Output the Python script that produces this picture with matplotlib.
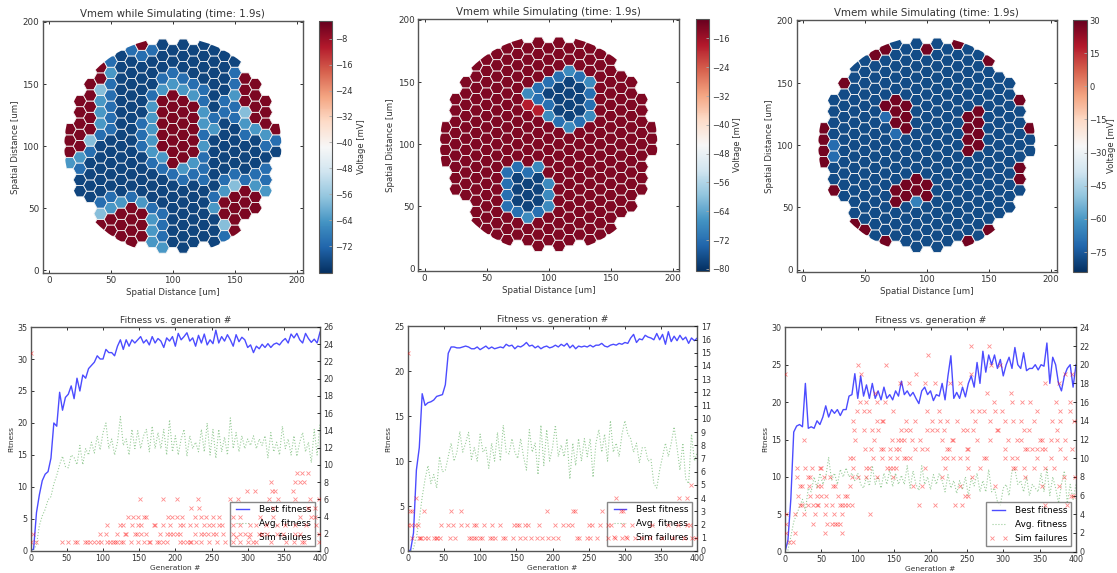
import matplotlib
matplotlib.use('Agg')
import numpy as np
import matplotlib.pyplot as plt
from matplotlib.collections import PolyCollection
from matplotlib.colors import Normalize
from matplotlib.cm import ScalarMappable
from matplotlib.lines import Line2D
from matplotlib.patches import Circle

W, H = 1117, 573

# lowest row index of each of the 21 cell columns (left to right)
COLUMN_START = [-2, -4, -5, -7, -8, -8, -9, -8, -9, -9, -9, -9, -9, -8, -9, -8, -8, -6, -6, -4, -1]

# cell states per column, bottom to top
CELLS_1 = [
    "MRRR", "DDBMRRRRR", "DDDDBLRRRRR", "RLBDDDDDBMMMLRR", "RRMBDDDDDBBBBBMB",
    "RRRMDDDDDDDDDDDDD", "RRRRBDDDDDDDDDDDDB", "RRRMDDDDBBBDDDDDBR",
    "MMMBDDDBMMMMMBDDDB", "MBBBDDDBMRRRRRMBDDD", "DDDDDDBRRRRRRRMBDD",
    "DDDDDDBMRRRRRRMBDDD", "DDDDDDBMRRRRRMBDDD", "DDDDDBBBMBMMBBDDDD",
    "DDDMBDDDDDMBDDDDDD", "BLRRMBDDDDDBBDDDD", "RRRRLBDDDDBBMBBD",
    "RRRBDDDBMLRRR", "RRMBDDDMRRRR", "MBBDBMRRR", "DBR",
]
CELLS_2 = [
    "RRRR", "RRRRRRRRR", "RRRRRRRRRRR", "RRRRRRRRRRRRRRR", "RRRRRRRRRRRRRRRR",
    "RRRRRRRRRRRRRRRRR", "RRRBBBBRRRRRRRRRRR", "RRBDDDBRRRRRRRRRRR",
    "RRMDDDBRRRRRrMRRRR", "RRRBDDDMRRRRrBBRRRR", "RRRMMMRRRRRMBDBRRR",
    "RRRRRRRRRRRBDDDBRRR", "RRRRRRRRRRMDDDDMRR", "RRRRRRRRRRBDDDBRRR",
    "RRRRRRRRRRRMBBMRRR", "RRRRRRRRRRRRRRRRR", "RRRRRRRRRRRRRRRR",
    "RRRRRRRRRRRRR", "RRRRRRRRRRRR", "RRRRRRRRR", "RRR",
]
CELLS_3 = [
    "RRRR", "RDDBBDDDD", "DDDDDDDDDDR", "RDDDDDDDDDDDDDD", "RDDDDDDDDDDDDDDD",
    "DDDDDDDDDDDDDDDDR", "RDDDDDDDDDDBRDDDDR", "DDDRRDDDDBRRRDDDDD",
    "DDDDRRDDDDRRRDDDDD", "DDDDMRRDDDDDDDDDDDD", "DDDDRRDDDDDDDDDDDR",
    "DDDDDDDDDDDDDDDDDDD", "DDDDDDDDDDDDDDDDDD", "DDDDDDDDDDDDDDDDDR",
    "RDDDDDDDRRRRDDDDDD", "DDDDDDDDRRRRDDDDD", "RDDDDDDDDDDDDDDR",
    "DDDDDDDDDDDDD", "DDDDDDDDDDDD", "DRRDDDDDR", "DDR",
]

# voltage of each cell state [mV]
LEVELS_1 = {'R': -5, 'D': -77, 'B': -71, 'M': -64, 'L': -58}
LEVELS_2 = {'R': -13, 'r': -18, 'D': -78, 'B': -72, 'M': -68}
LEVELS_3 = {'R': 28, 'D': -78, 'B': -71, 'M': -66}

VRANGE_1 = (-80.1, -2.6)
VRANGE_2 = (-80.6, -10.6)
VRANGE_3 = (-84, 30)

CB_TICKS_1 = [-72, -64, -56, -48, -40, -32, -24, -16, -8]
CB_TICKS_2 = [-80, -72, -64, -56, -48, -40, -32, -24, -16]
CB_TICKS_3 = [-75, -60, -45, -30, -15, 0, 15, 30]

# generation numbers of the sampled fitness values
GENS = list(range(0, 401, 4))

BEST_1 = [0.1, 0.3, 6, 8.8, 11, 12, 12.4, 14.5, 20, 19.5, 24.8, 22, 24, 24.5, 25.8, 23.8, 27, 25, 27.5, 27,
          28.5, 29, 29.5, 30.5, 30, 30, 31.5, 31, 31, 30.5, 32, 33, 31.5, 33, 32, 33, 32.5, 33, 33.5, 32.5,
          33, 32.2, 33.5, 32.5, 33.2, 32.8, 31.8, 33.3, 32.8, 33.5, 32, 34, 33, 33.5, 34.1, 32.8, 33.3, 32, 33.7, 32.5,
          33.9, 32.2, 33, 32.4, 34.5, 32.5, 33.5, 32.8, 33.8, 33, 32, 33.8, 32.7, 33.4, 33, 31.8, 32.2, 31, 32, 31.6,
          32.3, 31.8, 32.4, 31.8, 32.3, 32.5, 32.2, 32.8, 33.2, 32.5, 33.9, 33.3, 34, 33, 32.5, 34, 33.2, 32.6, 33.1, 32.5,
          34.2]
AVG_1 = [0, 0.2, 1, 4, 5.5, 6.5, 8, 8.5, 10.5, 11.8, 13.5, 14.8, 13.2, 13, 15, 14.6, 13.5, 16.5, 13.5, 16,
         15, 17, 15.3, 18, 15.8, 18.5, 20, 16, 17.5, 15, 17, 21, 16.5, 17.5, 15, 19, 16, 18.8, 16, 18,
         19, 15.5, 19.5, 16, 18.5, 16, 19, 15, 20.5, 15.5, 18, 15, 17.5, 19, 14.8, 18, 16, 17, 15.5, 19,
         15.5, 20, 15, 19, 14.5, 19, 15.5, 17.8, 15, 20.8, 16, 18.5, 15.5, 18, 16, 17.5, 16.5, 18, 16, 17.5,
         16.5, 18, 14.5, 18.5, 15.5, 17, 15, 19.5, 16, 17.5, 15, 18, 14.8, 17, 18.5, 15.5, 17, 13.8, 19, 15,
         20]
BEST_2 = [0, 0.1, 2, 9, 11.5, 17.5, 16.2, 16.5, 16.6, 16.8, 17.2, 17.3, 17.4, 18.5, 22, 22.7, 22.7, 22.6, 22.6, 22.7,
          22.8, 22.7, 22.5, 22.5, 22.7, 22.4, 22.6, 22.8, 22.5, 22.7, 22.5, 22.6, 22.7, 22.6, 23, 22.8, 22.9, 22.5, 22.8, 22.7,
          22.9, 23.2, 22.8, 22.9, 22.6, 22.8, 22.5, 22.7, 22.8, 22.6, 22.7, 22.9, 22.7, 23, 22.8, 23.1, 22.6, 22.9, 22.5, 22.8,
          22.7, 22.8, 22.7, 22.9, 22.7, 22.9, 22.9, 23.1, 22.8, 22.7, 22.9, 23, 22.9, 23.1, 23, 23.2, 23.1, 23.7, 24.1, 23.2,
          23.6, 23.5, 24, 23.8, 23.7, 23.5, 24.2, 23.5, 24.1, 23, 24.4, 23.3, 23.9, 23.4, 24, 23.5, 23.8, 23.1, 23.7, 23.4,
          23.7]
AVG_2 = [0, 0, 0.3, 1.5, 3.5, 6, 8, 9.5, 7.5, 8.5, 7, 10.5, 8.8, 9, 10.5, 12, 10, 11, 13.3, 11,
         12, 13.2, 10.2, 11.5, 10, 13, 11, 11.5, 9.2, 12, 10, 13.2, 10, 14, 11, 10.8, 12.5, 11, 10.3, 12.5,
         10.5, 9, 13.5, 11, 12, 8.5, 14, 9.5, 13.5, 10, 11.5, 14, 10.5, 11.8, 10.5, 12.5, 8, 12, 9.5, 12.5,
         10, 12.5, 10.5, 12.5, 8.2, 12, 13.5, 11, 13, 10, 14.5, 11, 12, 10.5, 13, 14.5, 13, 12.5, 11, 12,
         9.8, 11.5, 11.5, 10, 10.2, 7.5, 7, 9, 10.5, 12, 10.5, 12, 13.8, 11.5, 9, 12, 8, 7.5, 13, 10,
         11]
BEST_3 = [0, 1.5, 7, 16, 16.8, 17, 16.7, 22.5, 16.5, 16.7, 16.5, 17.5, 17, 18, 19.5, 18, 19, 18.5, 19, 18.2,
          19, 19, 20.8, 21, 23.8, 20.5, 23.5, 20.8, 22.3, 20.5, 22.5, 20.5, 21.5, 20.3, 22, 20.5, 21, 20.3, 21.5, 20.8,
          22.8, 21, 21.5, 20.8, 21.3, 20.5, 19.8, 21.5, 22, 21, 21.5, 20.2, 21, 20.8, 22.5, 20.3, 23.5, 26.2, 20.5, 21.3,
          20.5, 22, 20.7, 22.5, 23.5, 22, 25.3, 22.5, 26.8, 24, 26.3, 25, 26.3, 24.5, 25.7, 23.5, 25, 26, 24.5, 27.3,
          25, 24.5, 26.6, 24.2, 24.5, 24.5, 25, 24.3, 25, 24.8, 27.9, 22.5, 26, 25, 22.5, 21.5, 23.5, 24.5, 25, 22,
          25]
AVG_3 = [0, 0.2, 2, 4, 5, 6, 7, 5.5, 8.5, 8, 10, 8.5, 10.5, 9, 10, 12.6, 9.5, 10.5, 9, 11,
         10, 11.2, 10, 10.5, 9.5, 10.5, 9, 8.5, 10, 8.8, 11.5, 9, 10, 8.5, 10.5, 9, 11, 8.7, 10.5, 9,
         10.2, 9, 11.5, 8.5, 10.8, 9, 8.2, 11.5, 9, 10, 8.3, 10.3, 9, 10.5, 9.5, 8, 10.3, 8.5, 9.5, 7.8,
         9.5, 8.3, 10, 7.5, 9.8, 8.8, 10.5, 8, 9.5, 8, 11, 8, 8.5, 6.7, 6.2, 8.5, 9, 7.5, 10.8, 11,
         9, 9.5, 8, 10, 7.5, 9, 8.5, 8, 10.5, 8, 11.2, 7.5, 10, 8.5, 6.5, 9, 10.8, 6.5, 9, 7,
         9]

# failure count -> generations with that many failed simulations
FAILS_1 = {
    1: [1, 8, 43, 52, 61, 64, 75, 78, 82, 87, 93, 97, 105, 110, 114, 117, 120, 125, 128, 138, 149, 157, 163, 165, 174,
        178, 183, 189, 206, 211, 216, 220, 222, 229, 236, 246, 257, 268, 280, 289, 300, 307, 311, 332, 353, 364, 375, 378, 398],
    2: [3, 96, 104, 119, 130, 132, 144, 147, 153, 160, 179, 188, 193, 197, 202, 206, 227, 236, 240, 245, 252, 256, 266,
        280, 289, 296, 303, 315, 320, 327, 340, 349, 365, 372, 399],
    3: [106, 124, 128, 140, 149, 153, 170, 172, 183, 193, 206, 211, 220, 229, 239, 246, 252, 260, 264, 280, 289, 303,
        312, 326, 340, 351, 365, 381, 395],
    4: [134, 141, 148, 156, 159, 190, 195, 202, 209, 227, 236, 243, 252, 260, 280, 289, 317, 335, 372, 388, 393],
    5: [222, 233, 335, 384, 393],
    6: [151, 183, 202, 231, 275, 286, 330, 342, 365, 386, 398],
    7: [299, 310, 333, 338, 363],
    8: [332, 366, 372, 378],
    9: [368, 375, 383],
    23: [0],
}
FAILS_2 = {
    1: [6, 15, 17, 19, 24, 28, 37, 39, 41, 45, 59, 66, 84, 88, 92, 95, 100, 102, 114, 116, 121, 132, 134, 146, 155, 162,
        170, 178, 185, 194, 201, 207, 234, 236, 248, 252, 261, 277, 287, 296, 303, 314, 324, 335, 351, 367, 381, 393, 398],
    2: [1, 5, 10, 14, 46, 55, 62, 74, 82, 92, 95, 106, 117, 127, 147, 151, 154, 162, 166, 182, 204, 214, 221, 227, 250,
        255, 266, 277, 281, 297, 310, 337, 360, 374, 386, 390],
    3: [3, 6, 22, 60, 73, 193, 229, 231, 268, 294, 297],
    4: [12, 288, 375, 386],
    5: [391],
    15: [0],
}
FAILS_3 = {
    1: [5, 11],
    2: [2, 14, 55, 78],
    3: [1, 38, 58, 64, 69, 72, 76],
    4: [1, 14, 26, 41, 55, 67, 79, 117],
    5: [21, 23, 32, 39, 44, 46, 57, 64, 76, 78, 83, 87, 92, 184, 206, 233, 243, 358, 388],
    6: [18, 34, 44, 50, 57, 73, 83, 85, 248, 252, 393, 396],
    7: [21, 24, 33, 46, 49, 66, 69, 89, 176, 188, 240, 288, 353, 376],
    8: [16, 31, 34, 54, 62, 92, 101, 112, 126, 149, 216, 257, 330, 383, 399],
    9: [16, 28, 37, 48, 50, 94, 112, 115, 140, 144, 149, 153, 193, 220, 252, 268, 314, 316, 328, 342, 358, 370],
    10: [89, 93, 121, 133, 144, 154, 163, 167, 172, 217, 222, 231, 241, 250, 273, 276, 303, 312, 319, 346, 365, 385],
    11: [110, 118, 132, 135, 144, 153, 157, 179, 188, 195, 222, 225, 250, 252, 303, 330, 333, 339, 346, 353, 358, 378, 394],
    12: [26, 96, 122, 147, 156, 160, 163, 174, 186, 216, 229, 231, 264, 282, 307, 319, 324, 351, 353, 365, 374, 385],
    13: [95, 108, 119, 128, 160, 167, 172, 195, 202, 209, 218, 245, 250, 259, 291, 293, 328, 335, 374],
    14: [94, 126, 133, 135, 167, 179, 202, 213, 222, 236, 261, 282, 303, 314, 325, 342, 367, 378, 397],
    15: [99, 108, 115, 149, 195, 211, 257, 266, 273, 289, 298, 346, 378, 392],
    16: [103, 112, 126, 138, 287, 312, 326, 337, 372, 392],
    17: [124, 278, 310],
    18: [158, 171, 193, 206, 227, 241, 358, 376],
    19: [0, 105, 180, 255, 385, 394],
    20: [101, 139, 283, 296],
    21: [197],
    22: [255, 280],
}

DX = 8.33   # cell column spacing [um]
DY = 9.08   # cell spacing inside a column [um]
DARK = '#333333'


def px_axes(fig, left, top, right, bottom):
    # axes from pixel edges measured on the picture
    return fig.add_axes([left / W, 1 - bottom / H, (right - left) / W, (bottom - top) / H])


def style_axes(ax, size):
    ax.tick_params(direction='in', top=True, right=True, labelsize=size, length=2.5, width=0.6,
                   colors='#111111', labelcolor=DARK, pad=2.5)
    for spine in ax.spines.values():
        spine.set_color('#555555')
        spine.set_linewidth(1.0)


def plot_cells(fig, box, cbar_box, cells, levels, vrange, cb_ticks, label_x):
    ax = px_axes(fig, *box)

    half_w = (DX ** 2 + (DY / 2) ** 2) / (2 * DX)
    top_w = (DX ** 2 - (DY / 2) ** 2) / (2 * DX)
    hexagon = np.array([[half_w, 0], [top_w, DY / 2], [-top_w, DY / 2],
                        [-half_w, 0], [-top_w, -DY / 2], [top_w, -DY / 2]])

    polys, values = [], []
    for k, (start, column) in enumerate(zip(COLUMN_START, cells)):
        offset = k - 10
        cx = 100 + DX * offset
        shift = DY / 2 if offset % 2 == 0 else 0
        for j, state in enumerate(column):
            cy = 100 + shift + DY * (start + j)
            polys.append(hexagon + [cx, cy])
            values.append(levels[state])

    norm = Normalize(*vrange)
    coll = PolyCollection(polys, array=np.array(values), cmap='RdBu_r', norm=norm,
                          edgecolors='#f4f4f4', linewidths=0.6)
    ax.add_collection(coll)
    coll.set_clip_path(Circle((100, 100), 87.5, transform=ax.transData))

    ax.set_xlim(-5, 205)
    ax.set_ylim(-2, 200.8)
    ax.set_xticks(range(0, 201, 50))
    ax.set_yticks(range(0, 201, 50))
    ax.set_xlabel('Spatial Distance [um]', fontsize=6.2, color=DARK, labelpad=2)
    ax.set_ylabel('Spatial Distance [um]', fontsize=6.2, color=DARK, labelpad=2)
    ax.set_title('Vmem while Simulating (time: 1.9s)', fontsize=7.4, color=DARK, pad=3)
    style_axes(ax, 6.3)

    cax = px_axes(fig, *cbar_box)
    cb = fig.colorbar(ScalarMappable(norm=norm, cmap='RdBu_r'), cax=cax, ticks=cb_ticks)
    cb.ax.tick_params(direction='in', labelsize=6.0, length=2.5, width=0.6, colors='#aaaaaa',
                      labelcolor=DARK, pad=2)
    cb.outline.set_edgecolor('#555555')
    cb.outline.set_linewidth(0.8)
    cax.set_ylabel('Voltage [mV]', fontsize=6, color=DARK, rotation=90, ha='center', va='center')
    cax.yaxis.set_label_coords((label_x - cbar_box[0]) / (cbar_box[2] - cbar_box[0]), 0.5)


def plot_fitness(fig, box, best, avg, fails, ymax, y_step, fail_max, fail_step):
    ax = px_axes(fig, *box)
    line_best, = ax.plot(GENS, best, color='blue', lw=1.0, alpha=0.7)
    line_avg, = ax.plot(GENS, avg, color='green', lw=0.8, ls=':', alpha=0.4)
    ax.set_xlim(0, 400)
    ax.set_ylim(0, ymax)
    ax.set_xticks(range(0, 401, 50))
    ax.set_yticks(range(0, ymax + 1, y_step))
    ax.set_xlabel('Generation #', fontsize=5.4, color=DARK, labelpad=1)
    ax.set_ylabel('Fitness', fontsize=5.4, color=DARK, labelpad=2)
    ax.set_title('Fitness vs. generation #', fontsize=6.6, color=DARK, pad=3)
    style_axes(ax, 5.8)
    ax.tick_params(right=False)

    ax2 = ax.twinx()
    for count, gens in fails.items():
        ax2.plot(gens, [count] * len(gens), ls='none', marker='x', color='red', ms=3.2, mew=0.6, alpha=0.45)
    ax2.set_ylim(0, fail_max)
    ax2.set_yticks(range(0, fail_max + 1, fail_step))
    ax2.tick_params(direction='in', labelsize=5.8, length=2.5, width=0.6, colors='#111111',
                    labelcolor=DARK, pad=2.5)
    for spine in ax2.spines.values():
        spine.set_visible(False)

    fail_handle = Line2D([], [], ls='none', marker='x', color='red', ms=3.2, mew=0.6, alpha=0.45)
    ax.legend([line_best, line_avg, fail_handle], ['Best fitness', 'Avg. fitness', 'Sim failures'],
              loc='lower right', fontsize=6.4, numpoints=2, fancybox=False, framealpha=0.7,
              edgecolor='#555555', borderaxespad=0.6, labelspacing=0.55)


fig = plt.figure(figsize=(W / 100, H / 100), dpi=100)

plot_cells(fig, (42.7, 21, 303, 272.7), (319, 21, 332.3, 272.7), CELLS_1, LEVELS_1, VRANGE_1, CB_TICKS_1, 362)
plot_cells(fig, (418.3, 19, 679, 271), (695.7, 19, 709, 271), CELLS_2, LEVELS_2, VRANGE_2, CB_TICKS_2, 738)
plot_cells(fig, (796.7, 20, 1057, 272), (1073.3, 20, 1086.7, 272), CELLS_3, LEVELS_3, VRANGE_3, CB_TICKS_3, 1111)

plot_fitness(fig, (30.7, 327, 320, 551), BEST_1, AVG_1, FAILS_1, 35, 5, 26, 2)
plot_fitness(fig, (407.7, 326.3, 697.3, 551), BEST_2, AVG_2, FAILS_2, 25, 5, 17, 1)
plot_fitness(fig, (785, 327.3, 1076, 551.7), BEST_3, AVG_3, FAILS_3, 30, 5, 24, 2)

plt.savefig('out.png', dpi=100)
plt.close()
